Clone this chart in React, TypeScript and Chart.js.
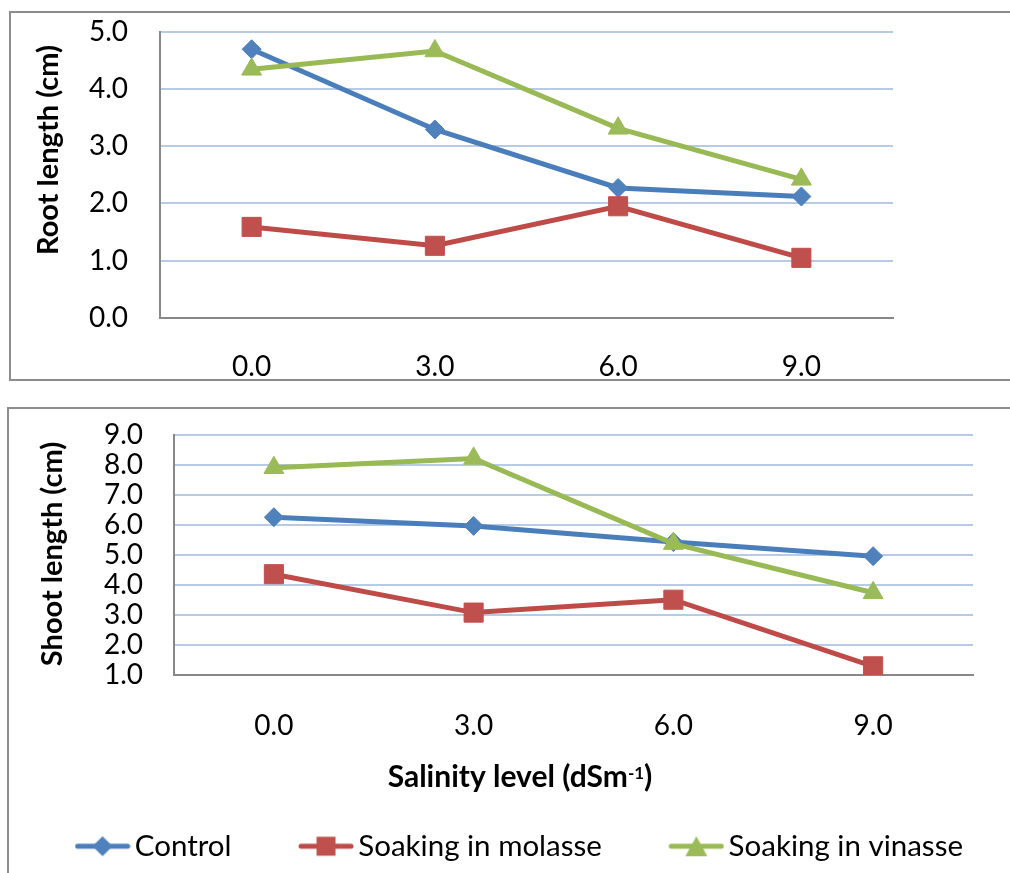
import React, { useEffect, useRef } from "react";
import { Chart, registerables } from "chart.js";

Chart.register(...registerables);

// ---------- data ----------
const salinityLabels = ["0.0", "3.0", "6.0", "9.0"];
const seriesNames = ["Control", "Soaking in molasse", "Soaking in vinasse"];

const rootControl = [4.69, 3.29, 2.27, 2.12];
const rootMolasse = [1.59, 1.26, 1.95, 1.05];
const rootVinasse = [4.34, 4.66, 3.31, 2.42];

const shootControl = [6.26, 5.97, 5.43, 4.96];
const shootMolasse = [4.36, 3.08, 3.51, 1.29];
const shootVinasse = [7.91, 8.22, 5.38, 3.74];

const rootAxisRange = [0, 5];
const shootAxisRange = [1, 9];

const rootTitle = "Root length (cm)";
const shootTitle = "Shoot length (cm)";
const xTitleMain = "Salinity level (dSm";
const xTitleSup = "-1";
const xTitleEnd = ")";

// ---------- styles ----------
const FONT = "Lato";
const GRID = "#B7CAE6";
const AXIS = "#888888";
const STYLES = [
  { line: "#4A7EBB", fill: "#4F81BD", point: "rectRot", radius: 9.5 },
  { line: "#BE4B48", fill: "#C0504D", point: "rect", radius: 13.5 },
  { line: "#98B954", fill: "#9BBB59", point: "triangle", radius: 11.5 },
];

function buildDatasets(values: number[][]) {
  return values.map((data, i) => ({
    label: seriesNames[i],
    data,
    borderColor: STYLES[i].line,
    backgroundColor: STYLES[i].fill,
    borderWidth: 5,
    pointStyle: STYLES[i].point,
    pointRadius: STYLES[i].radius,
    pointHoverRadius: STYLES[i].radius,
    pointBackgroundColor: STYLES[i].fill,
    pointBorderColor: STYLES[i].fill,
    pointBorderWidth: 1,
    tension: 0,
    fill: false,
    order: 3 - i,
  }));
}

function legendIcon(i: number) {
  const s = STYLES[i];
  const c = document.createElement("canvas");
  c.width = 56;
  c.height = 30;
  const g = c.getContext("2d")!;
  g.strokeStyle = s.line;
  g.lineWidth = 5;
  g.lineCap = "round";
  g.beginPath();
  g.moveTo(3, 15);
  g.lineTo(53, 15);
  g.stroke();
  g.fillStyle = s.fill;
  g.beginPath();
  if (s.point === "rectRot") {
    g.moveTo(18, 15);
    g.lineTo(28, 5);
    g.lineTo(38, 15);
    g.lineTo(28, 25);
  } else if (s.point === "rect") {
    g.rect(18.5, 5.5, 19, 19);
  } else {
    g.moveTo(28, 5);
    g.lineTo(39, 25);
    g.lineTo(17, 25);
  }
  g.closePath();
  g.fill();
  return c;
}

// plugin drawing axis titles (supports a superscript part)
const axisTitlePlugin = {
  id: "axisTitles",
  afterDraw(chart: any, _args: any, opts: any) {
    const ctx = chart.ctx as CanvasRenderingContext2D;
    (opts.items || []).forEach((it: any) => {
      ctx.save();
      ctx.fillStyle = "#000";
      ctx.textBaseline = "alphabetic";
      const mainFont = `bold ${it.size}px ${FONT}`;
      if (it.rotate) {
        ctx.font = mainFont;
        ctx.translate(it.x, it.y);
        ctx.rotate(-Math.PI / 2);
        ctx.textAlign = "center";
        ctx.fillText(it.text, 0, 0);
      } else {
        const supFont = `bold ${it.supSize}px ${FONT}`;
        ctx.font = mainFont;
        const w1 = ctx.measureText(it.text).width;
        const w3 = ctx.measureText(it.end || "").width;
        ctx.font = supFont;
        const w2 = ctx.measureText(it.sup || "").width;
        let x = it.x - (w1 + w2 + w3) / 2;
        ctx.textAlign = "left";
        ctx.font = mainFont;
        ctx.fillText(it.text, x, it.y);
        x += w1;
        ctx.font = supFont;
        ctx.fillText(it.sup || "", x, it.y - it.supRise);
        x += w2;
        ctx.font = mainFont;
        ctx.fillText(it.end || "", x, it.y);
      }
      ctx.restore();
    });
  },
};

const tickFont = { family: FONT, size: 28 };

function yScale(range: number[], gap: number, width: number) {
  return {
    min: range[0],
    max: range[1],
    grid: {
      color: GRID,
      lineWidth: 2,
      drawTicks: true,
      tickLength: gap,
      tickColor: "rgba(0,0,0,0)",
    },
    border: { display: true, color: AXIS, width: 2 },
    ticks: {
      stepSize: 1,
      autoSkip: false,
      color: "#000",
      font: tickFont,
      padding: 0,
      callback: (v: any) => Number(v).toFixed(1),
    },
    afterFit: (s: any) => {
      s.width = width;
    },
  };
}

function xScale(pad: number, height: number) {
  return {
    type: "category",
    offset: true,
    grid: { display: false },
    border: { display: true, color: AXIS, width: 2 },
    ticks: { color: "#000", font: tickFont, padding: pad, maxRotation: 0, autoSkip: false },
    afterFit: (s: any) => {
      s.height = height;
    },
  };
}

function topConfig(): any {
  return {
    type: "line",
    data: {
      labels: salinityLabels,
      datasets: buildDatasets([rootControl, rootMolasse, rootVinasse]),
    },
    plugins: [axisTitlePlugin],
    options: {
      responsive: false,
      animation: false,
      events: [],
      layout: { padding: { left: 0, right: 117, top: 31.5, bottom: 0 } },
      plugins: {
        legend: { display: false },
        tooltip: { enabled: false },
        axisTitles: {
          items: [{ text: rootTitle, rotate: true, x: 57.5, y: 150, size: 29 }],
        },
      },
      scales: {
        x: xScale(24, 74),
        y: yScale(rootAxisRange, 32, 160),
      },
    },
  };
}

function bottomConfig(): any {
  return {
    type: "line",
    data: {
      labels: salinityLabels,
      datasets: buildDatasets([shootControl, shootMolasse, shootVinasse]),
    },
    plugins: [axisTitlePlugin],
    options: {
      responsive: false,
      animation: false,
      events: [],
      layout: { padding: { left: 0, right: 0, top: 43, bottom: 2 } },
      plugins: {
        tooltip: { enabled: false },
        legend: {
          display: true,
          position: "bottom",
          labels: {
            usePointStyle: true,
            pointStyleWidth: 35,
            boxHeight: 30,
            padding: 77,
            color: "#000",
            font: { family: FONT, size: 29.5 },
            generateLabels: (chart: any) =>
              chart.data.datasets.map((ds: any, i: number) => ({
                text: ds.label,
                pointStyle: legendIcon(i),
                fillStyle: STYLES[i].fill,
                strokeStyle: STYLES[i].line,
                lineWidth: 0,
                hidden: false,
                datasetIndex: i,
                fontColor: "#000",
              })),
          },
        },
        axisTitles: {
          items: [
            { text: shootTitle, rotate: true, x: 87.5, y: 162, size: 29 },
            {
              text: xTitleMain,
              sup: xTitleSup,
              end: xTitleEnd,
              rotate: false,
              x: 546,
              y: 395,
              size: 30,
              supSize: 17,
              supRise: 8,
            },
          ],
        },
      },
      scales: {
        x: xScale(26, 79.5),
        y: yScale(shootAxisRange, 31, 200),
        yRightSpace: {
          type: "linear",
          position: "right",
          display: true,
          grid: { display: false, drawTicks: false },
          border: { display: false },
          ticks: { display: false },
          afterFit: (s: any) => {
            s.width = 101;
          },
        },
      },
    },
  };
}

export default function App() {
  const topRef = useRef<HTMLCanvasElement>(null);
  const botRef = useRef<HTMLCanvasElement>(null);

  useEffect(() => {
    const top = new Chart(topRef.current!, topConfig());
    const bot = new Chart(botRef.current!, bottomConfig());
    return () => {
      top.destroy();
      bot.destroy();
    };
  }, []);

  return (
    <div
      style={{
        position: "absolute",
        left: 0,
        top: 0,
        width: 1010,
        height: 873,
        overflow: "hidden",
        background: "#fff",
      }}
    >
      <div
        style={{
          position: "absolute",
          left: 9,
          top: 11,
          width: 1030,
          height: 370,
          border: "2px solid #8D8D8D",
          boxSizing: "border-box",
        }}
      />
      <div
        style={{
          position: "absolute",
          left: 7,
          top: 407,
          width: 1030,
          height: 500,
          border: "2px solid #8D8D8D",
          boxSizing: "border-box",
        }}
      />
      <canvas
        ref={topRef}
        width={1010}
        height={392}
        style={{ position: "absolute", left: 0, top: 0, width: 1010, height: 392 }}
      />
      <canvas
        ref={botRef}
        width={1100}
        height={481}
        style={{ position: "absolute", left: -26, top: 392, width: 1100, height: 481 }}
      />
    </div>
  );
}
